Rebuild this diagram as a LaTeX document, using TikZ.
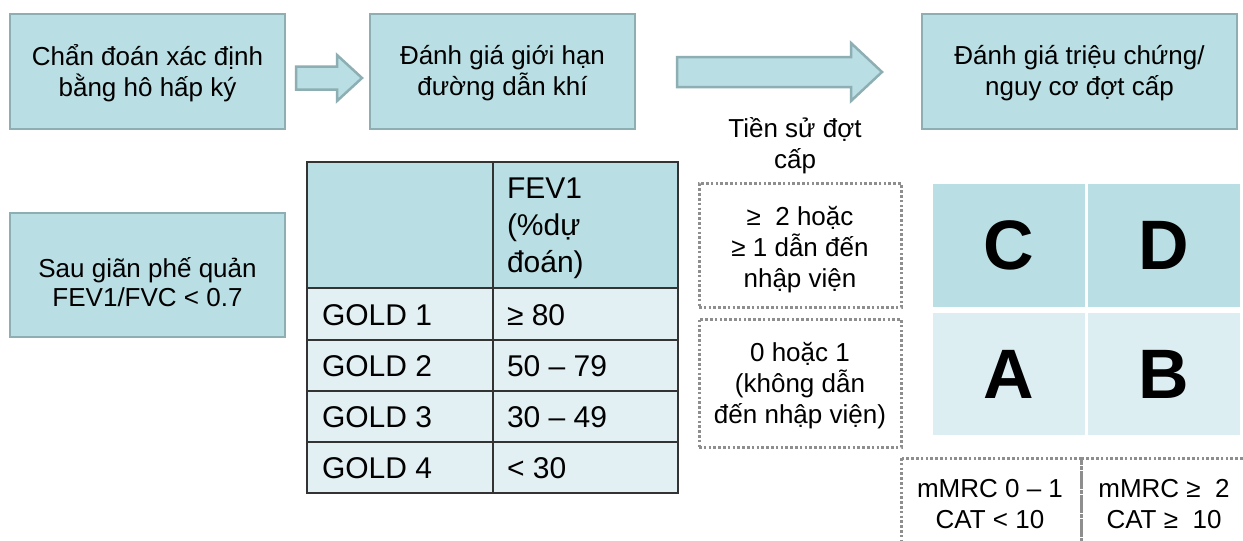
\documentclass[tikz,border=0pt]{standalone}
\usepackage{fontspec}
\setmainfont{Liberation Sans}
\usetikzlibrary{calc}
\definecolor{boxfill}{HTML}{B9DEE3}
\definecolor{boxedge}{HTML}{8DAFB3}
\definecolor{rowfill}{HTML}{E2F0F3}
\definecolor{lowfill}{HTML}{DCEEF1}
\definecolor{dotline}{HTML}{8E8E8E}
\definecolor{gridline}{HTML}{333333}
\begin{document}
\begin{tikzpicture}[x=1pt,y=-1pt,
  every node/.style={inner sep=0pt, outer sep=0pt},
  stepbox/.style={draw=boxedge, line width=2.5pt, fill=boxfill},
  blockarrow/.style={draw=boxedge, line width=2.5pt, fill=boxfill, line join=miter},
  txt/.style={align=center, font=\fontsize{26}{31}\selectfont},
  tabtxt/.style={anchor=base west, font=\fontsize{30}{37}\selectfont},
  dotbox/.style={draw=dotline, line width=3pt, dash pattern=on 2.6pt off 2.2pt},
  cell/.style={minimum width=152pt, font=\fontsize{70}{70}\selectfont\bfseries}]
\clip (0,0) rectangle (1243,541);
\fill[white] (0,0) rectangle (1243,541);

% top row of steps
\node[stepbox, minimum width=275pt, minimum height=115pt] (diag) at (147.5,71.5) {};
\node[txt] (diagtxt) at ($(diag.center)+(0,2)$) {Chẩn đoán xác định\\bằng hô hấp ký};
\node[stepbox, minimum width=265pt, minimum height=115pt] (limit) at (502.5,71.5) {};
\node[txt] (limittxt) at ($(limit.center)+(0,2)$) {Đánh giá giới hạn\\đường dẫn khí};
\node[stepbox, minimum width=315pt, minimum height=115pt] (risk) at (1079.5,71.5) {};
\node[txt] (risktxt) at ($(risk.center)+(0,2)$) {Đánh giá triệu chứng/\\nguy cơ đợt cấp};
\node[stepbox, minimum width=275pt, minimum height=124pt] (post) at (147.5,275) {};
\node[txt, font=\fontsize{26}{29}\selectfont] (posttxt) at ($(post.center)+(0,7)$)
  {Sau giãn phế quản\\FEV1/FVC < 0.7};

% block arrows between the steps
\coordinate (a1s) at ($(diag.east)+(11,6.5)$);
\coordinate (a1e) at ($(limit.west)+(-8,6.5)$);
\draw[blockarrow] let \p1=(a1s), \p2=(a1e) in
  (\x1,\y1+11.5pt) -- (\x2-25pt,\y1+11.5pt) -- (\x2-25pt,\y1+23pt) -- (\x2,\y1)
  -- (\x2-25pt,\y1-23pt) -- (\x2-25pt,\y1-11.5pt) -- (\x1,\y1-11.5pt) -- cycle;
\coordinate (a2s) at ($(limit.east)+(42,0.5)$);
\coordinate (a2e) at ($(risk.west)+(-40,0.5)$);
\draw[blockarrow] let \p1=(a2s), \p2=(a2e) in
  (\x1,\y1+15pt) -- (\x2-31pt,\y1+15pt) -- (\x2-31pt,\y1+29pt) -- (\x2,\y1)
  -- (\x2-31pt,\y1-29pt) -- (\x2-31pt,\y1-15pt) -- (\x1,\y1-15pt) -- cycle;

% FEV1 table
\fill[boxfill] (307,162) rectangle (678,288);
\fill[rowfill] (307,288) rectangle (678,493);
\draw[gridline, line width=2.5pt] (307,162) rectangle (678,493);
\foreach \yy in {288,340,391,442} \draw[gridline, line width=2.5pt] (307,\yy) -- (678,\yy);
\draw[gridline, line width=2.5pt] (493,162) -- (493,493);
\node[tabtxt] (h1) at (507,198) {FEV1};
\node[tabtxt] (h2) at (507,235) {(\%dự};
\node[tabtxt] (h3) at (507,272) {đoán)};
\node[tabtxt] (g1) at (322,325) {GOLD 1};
\node[tabtxt] (g2) at (322,376) {GOLD 2};
\node[tabtxt] (g3) at (322,427) {GOLD 3};
\node[tabtxt] (g4) at (322,478) {GOLD 4};
\node[tabtxt] (v1) at (507,325) {≥ 80};
\node[tabtxt] (v2) at (507,376) {50 – 79};
\node[tabtxt] (v3) at (507,427) {30 – 49};
\node[tabtxt] (v4) at (507,478) {< 30};

% exacerbation history
\node[txt] (hist) at (795,146) {Tiền sử đợt\\cấp};
\node[dotbox, minimum width=202pt, minimum height=124pt] (many) at (800,245.5) {};
\node[txt] (manytxt) at ($(many.center)+(0,4)$) {≥~ 2 hoặc\\≥ 1 dẫn đến\\nhập viện};
\node[dotbox, minimum width=202pt, minimum height=128pt] (few) at (800,383) {};
\node[txt] (fewtxt) at ($(few.center)+(0,3)$) {0 hoặc 1\\(không dẫn\\đến nhập viện)};

% ABCD grid
\node[cell, fill=boxfill, minimum height=123pt] (C) at (1009,245.5) {C};
\node[cell, fill=boxfill, minimum height=123pt] (D) at (1164,245.5) {D};
\node[cell, fill=lowfill, minimum height=122pt] (A) at (1009,374) {A};
\node[cell, fill=lowfill, minimum height=122pt] (B) at (1164,374) {B};

% symptom scores
\draw[dotbox] (901,458) rectangle (1081,570);
\draw[dotbox] (1081,458) rectangle (1261,570);
\node[txt] (low) at (990,504) {mMRC 0 – 1\\CAT < 10};
\node[txt] (high) at (1164,504) {mMRC ≥~ 2\\CAT ≥~ 10};
\end{tikzpicture}
\end{document}
